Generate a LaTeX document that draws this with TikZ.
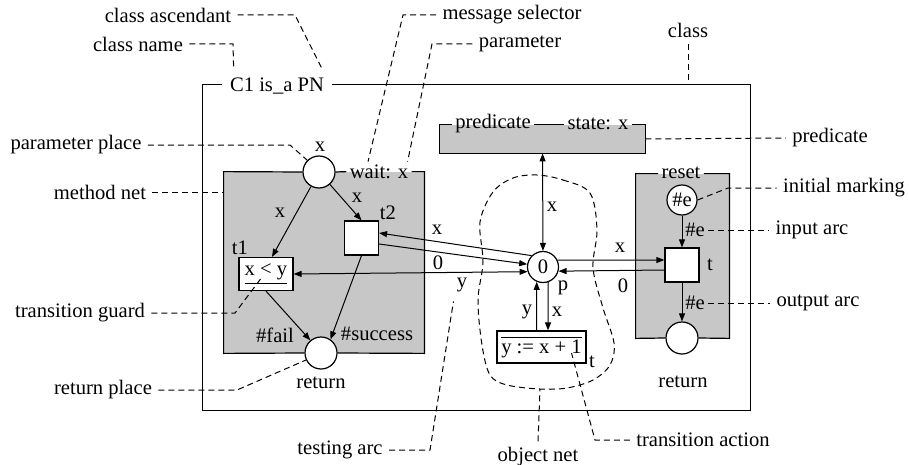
\documentclass[tikz,border=0pt]{standalone}
\usepackage{fontspec}
\setmainfont{Liberation Serif}
\usetikzlibrary{arrows.meta}

\begin{document}
\begin{tikzpicture}[x=0.5pt,y=-0.5pt,>={Triangle[length=4pt,width=3pt]},
  every node/.style={font=\fontsize{10.3}{12}\selectfont},
  place/.style={circle,draw,fill=white,minimum size=16pt,inner sep=0pt,line width=0.6pt},
  trans/.style={rectangle,draw,fill=white,minimum size=17pt,inner sep=1pt,line width=0.6pt},
  netbox/.style={fill=black!22,inner sep=0pt},
  boxline/.style={line width=0.6pt},
  flow/.style={->,line width=0.5pt},
  lbl/.style={inner sep=1.5pt},
  note/.style={inner sep=3pt},
  lead/.style={line width=0.5pt,dash pattern=on 3pt off 2pt}]
\useasboundingbox (0,0) rectangle (909,465);

% class frame and the three nets
\node[minimum width=273.5pt,minimum height=162.5pt,inner sep=0pt] (cls) at (476.5,247.5) {};
\node[netbox,minimum width=100pt,minimum height=90.5pt] (mnet) at (324,262.5) {};
\node[netbox,minimum width=102.5pt,minimum height=14pt] (pred) at (542.5,139) {};
\node[netbox,minimum width=46.5pt,minimum height=82pt] (rnet) at (682.5,256) {};

% titles sitting on the box edges
\node[lbl,inner sep=4pt] (cname) at (277,86) {C1 is\_a PN};
\node[lbl] (predL) at (493,124) {predicate};
\node[lbl] (predR) at (598,124) {state: x};
\node[lbl] (reset) at (681,173) {reset};
\node[lbl] (wait) at (379,172) {wait: x};

% places and transitions
\node[place] (pplace) at (319,172) {};
\node[place] (rplace) at (321,353) {};
\node[trans,minimum width=27pt,minimum height=16.5pt] (t1) at (266,274) {$\underline{\mbox{x < y}}$};
\node[trans] (t2) at (361.5,238) {};
\node[place,minimum size=15.5pt] (obj) at (543,267) {0};
\node[trans,minimum width=44.5pt,minimum height=16pt] (act) at (541.5,347) {$\overline{\mbox{y := x + 1}}$};
\node[place,minimum size=15pt] (init) at (682,200) {\#e};
\node[trans] (tr) at (682,265) {};
\node[place] (rret) at (682,338) {};

% box edges, broken by the titles and the places
\draw[boxline] (cname.east |- cls.north) -- (cls.north east) -- (cls.south east)
  -- (cls.south west) -- (cls.north west) -- (cname.west |- cls.north);
\draw[boxline] (pplace.east) -- (wait.west |- mnet.north);
\draw[boxline] (wait.east |- mnet.north) -- (mnet.north east) -- (mnet.south east) -- (rplace.east);
\draw[boxline] (rplace.west) -- (mnet.south west) -- (mnet.north west) -- (pplace.west);
\draw[boxline] (predL.west |- pred.north) -- (pred.north west) -- (pred.south west)
  -- (pred.south east) -- (pred.north east) -- (predR.east |- pred.north);
\draw[boxline] (predL.east |- pred.north) -- (predR.west |- pred.north);
\draw[boxline] (reset.west |- rnet.north) -- (rnet.north west) -- (rnet.south west) -- (rret.west);
\draw[boxline] (rret.east) -- (rnet.south east) -- (rnet.north east) -- (reset.east |- rnet.north);

% arcs
\draw[flow] (pplace) -- ([xshift=3pt]t1.north);
\draw[flow] (pplace) -- (t2.north);
\draw[flow] (t1.south) -- (rplace.130);
\draw[flow] (t2.south) -- (rplace.55);
\draw[flow] (obj.135) -- ([yshift=2.5pt]t2.east);
\draw[flow] ([yshift=-3pt]t2.east) -- (obj.170);
\draw[flow,<->] (t1.east) -- (obj.197);
\draw[flow,<->] (pred) -- (obj);
\draw[flow] (obj.25) -- ([yshift=2.5pt]tr.west);
\draw[flow] ([yshift=-2.5pt]tr.west) -- (obj.-15);
\draw[flow] ([xshift=-2.5pt]act.north) -- (obj.247);
\draw[flow] (obj.289) -- ([xshift=3.25pt]act.north);
\draw[flow] (init) -- (tr);
\draw[flow] (tr) -- (rret);

% inscriptions
\node[lbl] (xp) at (320,147) {x};
\node[lbl] (xa) at (280,213) {x};
\node[lbl] (xb) at (357,198) {x};
\node[lbl] (t1n) at (240,248) {t1};
\node[lbl] (t2n) at (388,213) {t2};
\node[lbl] (xc) at (437,230) {x};
\node[lbl] (zc) at (438,263) {0};
\node[lbl] (ylab) at (462,285) {y};
\node[lbl] (fail) at (275,335) {\#fail};
\node[lbl] (succ) at (377,334) {\#success};
\node[lbl] (ret1) at (321,383) {return};
\node[lbl] (xs) at (552,207) {x};
\node[lbl] (xt) at (620,248) {x};
\node[lbl] (zt) at (623,286) {0};
\node[lbl] (pn) at (563,288) {p};
\node[lbl] (ya) at (527,312) {y};
\node[lbl] (xact) at (557,312) {x};
\node[lbl] (actn) at (592,362) {t};
\node[lbl] (trn) at (710,265) {t};
\node[lbl] (ein) at (695,230) {\#e};
\node[lbl] (eout) at (695,303) {\#e};
\node[lbl] (ret2) at (683,382) {return};

% object net outline
\draw[lead] plot[smooth cycle,tension=0.55] coordinates {(537,175) (563,180) (590,193)
  (597,230) (593,268) (603,308) (614,343) (610,365) (593,380) (567,388) (540,389)
  (507,385) (490,375) (482,345) (478,300) (483,262) (480,222) (493,192) (513,178)};
\coordinate (onet) at (540,389);

% annotations
\node[note] (ascend) at (168,15) {class ascendant};
\node[note] (clsname) at (138,44) {class name};
\node[note] (msgsel) at (512,15) {message selector};
\node[note] (param) at (520,44) {parameter};
\node[note] (clsann) at (688,30) {class};
\node[note] (predann) at (830,138) {predicate};
\node[note] (initann) at (844,188) {initial marking};
\node[note] (inann) at (812,230) {input arc};
\node[note] (outann) at (818,303) {output arc};
\node[note] (ppann) at (76,145) {parameter place};
\node[note] (mnann) at (100,192) {method net};
\node[note] (tgann) at (80,313) {transition guard};
\node[note] (rpann) at (103,390) {return place};
\node[note] (testann) at (340,450) {testing arc};
\node[note] (objann) at (538,457) {object net};
\node[note] (actann) at (703,440) {transition action};

\draw[lead] (ascend.east) -- (295,15) -- ([xshift=-5pt]cname.north east);
\draw[lead] (clsname.east) -- (233,44) -- ([xshift=6pt]cname.north west);
\draw[lead] (msgsel.west) -- (403,15) -- ([xshift=-5.5pt]wait.north);
\draw[lead] (param.west) -- (432,44) -- ([xshift=-2pt]wait.north east);
\draw[lead] (clsann.south) -- (clsann.south |- cls.north);
\draw[lead] (pred.east) -- (predann.west);
\draw[lead] (init.east) -- (728,188) -- (initann.west);
\draw[lead] (ein.east) -- (inann.west);
\draw[lead] (eout.east) -- (outann.west);
\draw[lead] (ppann.east) -- (290,145) -- (pplace.135);
\draw[lead] (mnann.east) -- (mnann.east -| mnet.west);
\draw[lead] (tgann.east) -- (235,313) -- ([xshift=-2pt,yshift=-1.5pt]t1.center);
\draw[lead] (rpann.east) -- (237,390) -- (rplace.205);
\draw[lead] (testann.east) -- (430,450) -- ([yshift=-3pt]ylab.south west);
\draw[lead] (objann.north) -- (onet);
\draw[lead] (actann.west) -- (595,440) -- ([xshift=15pt,yshift=-3pt]act.center);
\end{tikzpicture}
\end{document}
